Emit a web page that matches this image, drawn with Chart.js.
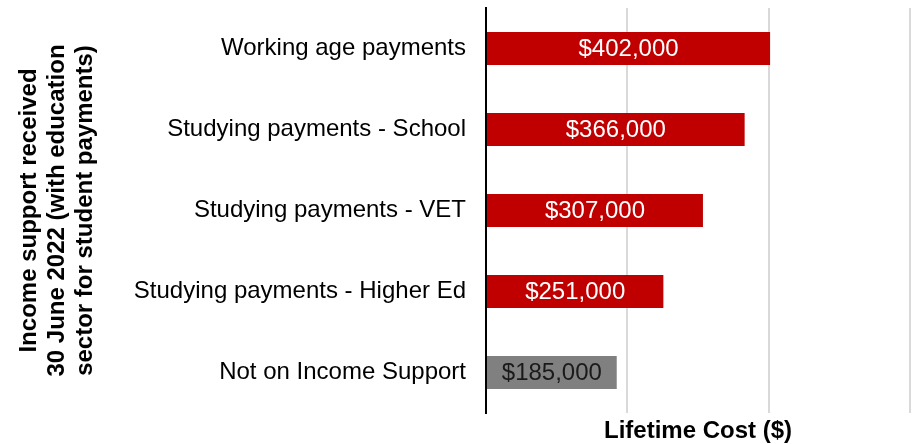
<!DOCTYPE html>
<html>
<head>
<meta charset="utf-8">
<script src="https://cdn.jsdelivr.net/npm/chart.js@4"></script>
<style>
  html, body { margin: 0; padding: 0; background: #fff; }
  #wrap { width: 912px; height: 444px; }
</style>
</head>
<body>
<div id="wrap"><canvas id="costChart" width="912" height="444"></canvas></div>
<script>
// data
const categories = [
    'Working age payments',
    'Studying payments - School',
    'Studying payments - VET',
    'Studying payments - Higher Ed',
    'Not on Income Support'
];
const lifetimeCost = [402000, 366000, 307000, 251000, 185000];
const barColours = ['#C00000', '#C00000', '#C00000', '#C00000', '#808080'];
const labelColours = ['#ffffff', '#ffffff', '#ffffff', '#ffffff', '#1a1a1a'];
const yTitle = ['Income support received', '30 June 2022 (with education', 'sector for student payments)'];
const xTitle = 'Lifetime Cost ($)';

const FONT = "'Liberation Sans', Arial, sans-serif";

// value labels in the middle of each bar
const barLabels = {
    id: 'barLabels',
    afterDatasetsDraw(chart) {
        const ctx = chart.ctx;
        const meta = chart.getDatasetMeta(0);
        ctx.save();
        ctx.font = '24px ' + FONT;
        ctx.textAlign = 'center';
        ctx.textBaseline = 'middle';
        meta.data.forEach(function(bar, i) {
            const v = lifetimeCost[i];
            ctx.fillStyle = labelColours[i];
            ctx.fillText('$' + v.toLocaleString('en-US'), (bar.x + bar.base) / 2, bar.y + 1);
        });
        ctx.restore();
    }
};

new Chart(document.getElementById('costChart').getContext('2d'), {
    type: 'bar',
    data: {
        labels: categories,
        datasets: [{
            data: lifetimeCost,
            backgroundColor: barColours,
            borderWidth: 0,
            barPercentage: 0.41,
            categoryPercentage: 1
        }]
    },
    options: {
        indexAxis: 'y',
        responsive: false,
        animation: false,
        layout: { padding: { top: 8, right: 2, left: 0, bottom: 0 } },
        plugins: { legend: { display: false }, tooltip: { enabled: false } },
        scales: {
            x: {
                min: 0,
                max: 600000,
                ticks: { display: false, stepSize: 200000 },
                grid: { color: '#d9d9d9', lineWidth: 2, drawTicks: false },
                border: { display: false },
                title: {
                    display: true,
                    text: xTitle,
                    color: '#000',
                    font: { family: FONT, size: 24, weight: 'bold', lineHeight: 1 },
                    padding: { top: 6, bottom: 1 }
                },
                afterFit(scale) {
                    scale.height = 31;
                    scale.paddingLeft = 0;
                    scale.paddingRight = 0;
                }
            },
            y: {
                ticks: {
                    color: '#000',
                    font: { family: FONT, size: 24 },
                    padding: 20
                },
                grid: { display: false, drawTicks: false },
                border: { display: true, color: '#000', width: 2 },
                title: {
                    display: true,
                    text: yTitle,
                    color: '#000',
                    font: { family: FONT, size: 24, weight: 'bold', lineHeight: 1.15 },
                    padding: { top: 16, bottom: 0 }
                },
                afterFit(scale) {
                    scale.width = 486;
                    scale.paddingTop = 0;
                    scale.paddingBottom = 0;
                }
            }
        }
    },
    plugins: [barLabels]
});
</script>
</body>
</html>
